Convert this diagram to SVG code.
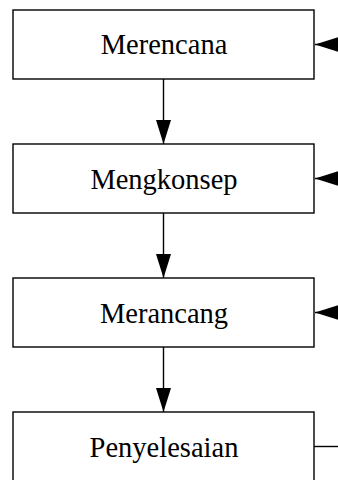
<svg xmlns="http://www.w3.org/2000/svg" width="338" height="480" viewBox="0 0 338 480">
<style>
.box{fill:#fff;stroke:#000;stroke-width:1.4}
.lbl{font-family:"Liberation Serif","Times New Roman",serif;font-size:28.5px;fill:#000;text-anchor:middle}
.conn{stroke:#000;stroke-width:1.4;fill:none}
</style>
<defs>
<marker id="ah" markerUnits="userSpaceOnUse" markerWidth="24" markerHeight="16" refX="24" refY="7.5" orient="auto">
<path d="M0,0 L24,7.5 L0,15 Z" fill="#000"/>
</marker>
</defs>
<rect width="338" height="480" fill="#fff"/>
<g id="connectors">
<line class="conn" x1="163.5" y1="79" x2="163.5" y2="144" marker-end="url(#ah)"/>
<line class="conn" x1="163.5" y1="213" x2="163.5" y2="278" marker-end="url(#ah)"/>
<line class="conn" x1="163.5" y1="347" x2="163.5" y2="412" marker-end="url(#ah)"/>
<line class="conn" x1="360" y1="44.5" x2="315" y2="44.5" marker-end="url(#ah)"/>
<line class="conn" x1="360" y1="178.5" x2="315" y2="178.5" marker-end="url(#ah)"/>
<line class="conn" x1="360" y1="312.5" x2="315" y2="312.5" marker-end="url(#ah)"/>
<line class="conn" x1="314" y1="446.5" x2="340" y2="446.5"/>
</g>
<g id="merencana">
<rect class="box" x="13" y="10" width="301" height="69"/>
<text class="lbl" x="164" y="54">Merencana</text>
</g>
<g id="mengkonsep">
<rect class="box" x="13" y="144" width="301" height="69"/>
<text class="lbl" x="164" y="188.5">Mengkonsep</text>
</g>
<g id="merancang">
<rect class="box" x="13" y="278" width="301" height="69"/>
<text class="lbl" x="164" y="322.5">Merancang</text>
</g>
<g id="penyelesaian">
<rect class="box" x="13" y="412" width="301" height="69"/>
<text class="lbl" x="164" y="456.5">Penyelesaian</text>
</g>
</svg>
